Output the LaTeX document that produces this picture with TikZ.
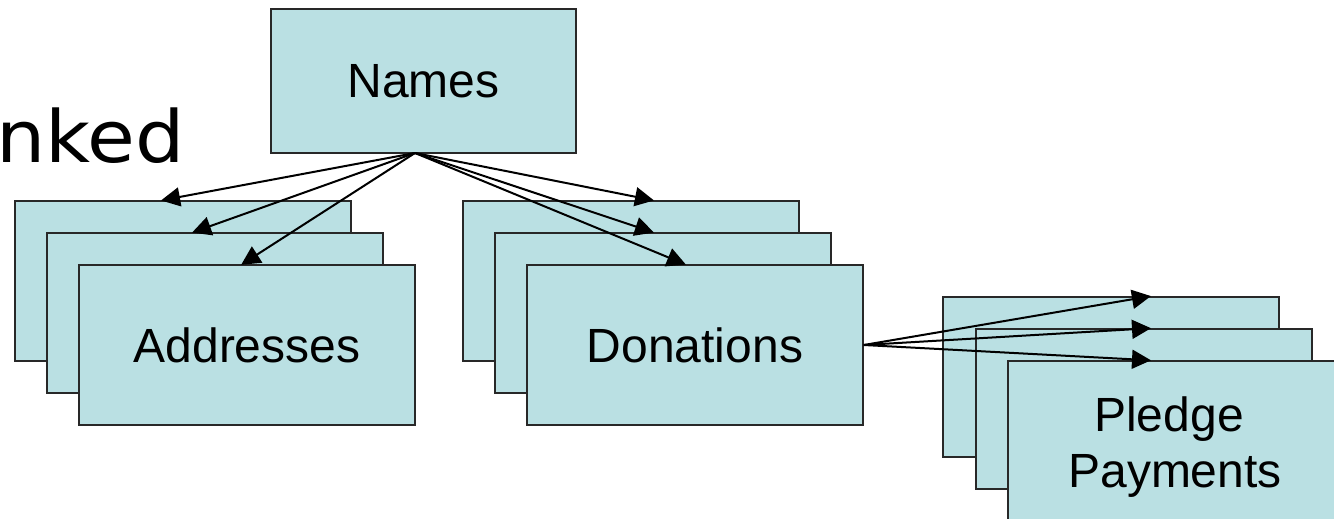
\documentclass[tikz,border=0pt]{standalone}
\usepackage{fontspec}
\setmainfont{Liberation Sans}
\newfontfamily\titlefont{DejaVu Sans}
\usetikzlibrary{arrows.meta}
\definecolor{boxfill}{RGB}{186,224,227}
\definecolor{boxline}{RGB}{40,40,40}
\tikzset{
  tbl/.style={draw=boxline, line width=1.5pt, fill=boxfill, minimum width=336pt, minimum height=160pt, inner sep=0pt, align=center, font=\fontsize{48pt}{56pt}\selectfont},
  link/.style={draw=black, line width=2pt, -{Triangle[length=19pt,width=19pt]}, shorten >=-1pt}
}
\begin{document}
\begin{tikzpicture}[x=1pt,y=-1pt]
\clip (0,0) rectangle (1334,519);
\fill[white] (0,0) rectangle (1334,519);
% title fragment
\node[anchor=base west, inner sep=0pt, xscale=1.08, font=\titlefont\fontsize{72pt}{80pt}\selectfont] (title) at (-4,162) {nked};
% Names
\node[tbl, minimum width=305pt, minimum height=144pt] (names) at (423.5,81) {Names};
% Addresses stack
\node[tbl] (a1) at (183,281) {};
\node[tbl] (a2) at (215,313) {};
\node[tbl] (a3) at (247,345) {Addresses};
% Donations stack
\node[tbl] (d1) at (631,281) {};
\node[tbl] (d2) at (663,313) {};
\node[tbl] (d3) at (695,345) {Donations};
% Pledge stack
\node[tbl] (p1) at (1111,377) {};
\node[tbl] (p2) at (1144,409) {};
\node[tbl] (p3) at (1176,441) {};
\node[anchor=base, inner sep=0pt, font=\fontsize{48pt}{56pt}\selectfont] (pl1) at (1169,431) {Pledge};
\node[anchor=base, inner sep=0pt, font=\fontsize{48pt}{56pt}\selectfont] (pl2) at (1175,487) {Payments};
% sources
\coordinate (nsrc) at (415,153);
\coordinate (dsrc) at (d3.east);
% arrows from Names
\draw[link] (nsrc) -- ([xshift=-21pt]a1.north);
\draw[link] (nsrc) -- ([xshift=-22pt]a2.north);
\draw[link] (nsrc) -- ([xshift=-5pt]a3.north);
\draw[link] (nsrc) -- ([xshift=22pt]d1.north);
\draw[link] (nsrc) -- ([xshift=-10pt]d2.north);
\draw[link] (nsrc) -- ([xshift=-10pt]d3.north);
% arrows from Donations
\draw[link] (dsrc) -- ([xshift=39pt]p1.north);
\draw[link] (dsrc) -- ([xshift=6pt]p2.north);
\draw[link] (dsrc) -- ([xshift=-26pt]p3.north);
\end{tikzpicture}
\end{document}
